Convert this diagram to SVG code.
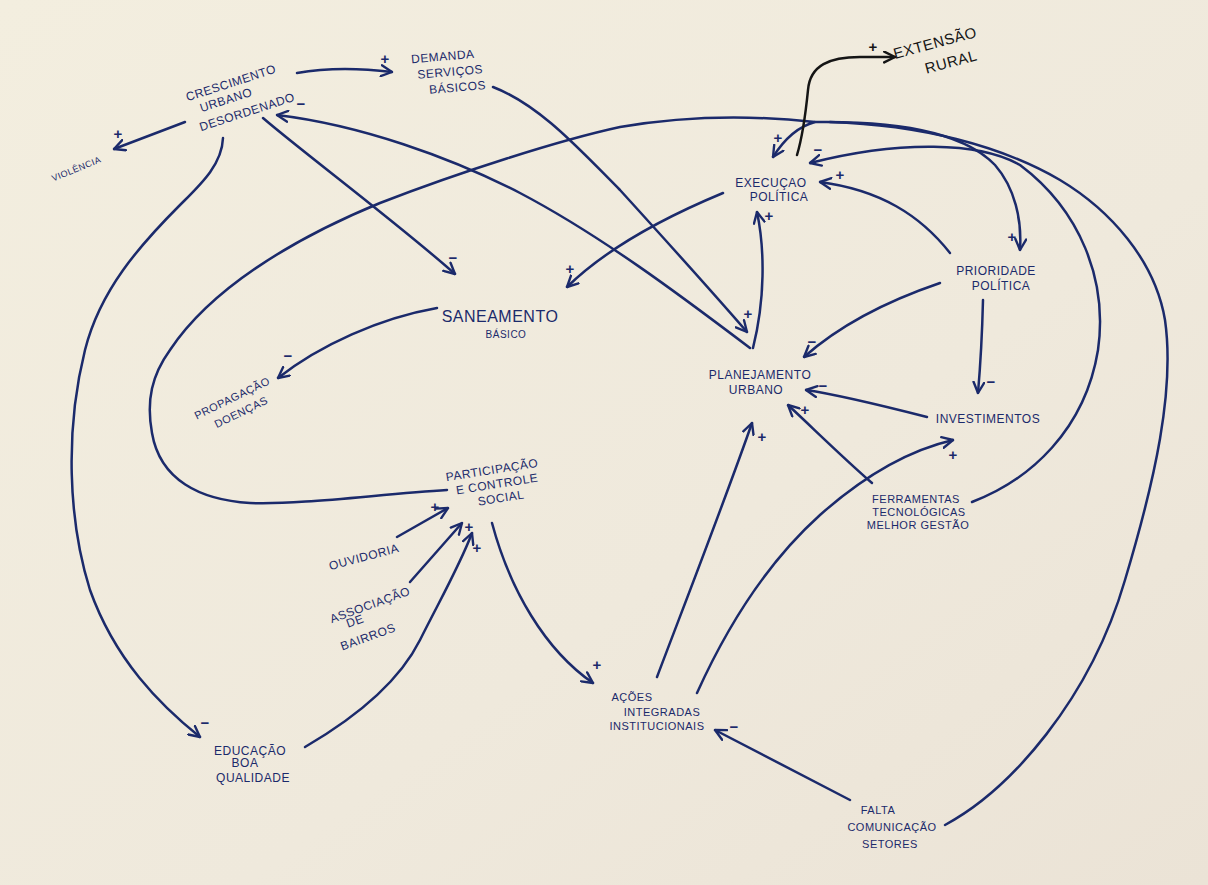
<svg xmlns="http://www.w3.org/2000/svg" width="1208" height="885" viewBox="0 0 1208 885">
<defs>
<linearGradient id="paper" x1="0" y1="0" x2="1" y2="1">
<stop offset="0" stop-color="#f3eedf"/>
<stop offset="0.6" stop-color="#efe9dc"/>
<stop offset="1" stop-color="#ebe3d6"/>
</linearGradient>
<marker id="arr" viewBox="0 0 12 12" refX="11" refY="6" markerWidth="13" markerHeight="13" markerUnits="userSpaceOnUse" orient="auto">
<path d="M1,1 L11,6 L1,11" fill="none" stroke="#1b2a6b" stroke-width="2.2" stroke-linecap="round" stroke-linejoin="round"/>
</marker>
<marker id="arrk" viewBox="0 0 12 12" refX="11" refY="6" markerWidth="13" markerHeight="13" markerUnits="userSpaceOnUse" orient="auto">
<path d="M1,1 L11,6 L1,11" fill="none" stroke="#151515" stroke-width="2.2" stroke-linecap="round" stroke-linejoin="round"/>
</marker>
</defs>
<style>
.c{fill:none;stroke:#1b2a6b;stroke-width:2.5;stroke-linecap:round;marker-end:url(#arr)}
.n{fill:none;stroke:#1b2a6b;stroke-width:2.5;stroke-linecap:round}
.t{font-family:"Liberation Sans",Arial,sans-serif;fill:#1b2a6b;font-size:12px;text-anchor:middle;letter-spacing:0.5px}
.p{font-family:"Liberation Sans",Arial,sans-serif;fill:#1b2a6b;font-size:15px;text-anchor:middle;font-weight:bold}
</style>
<rect x="0" y="0" width="1208" height="885" fill="url(#paper)"/>

<g id="connectors">
<path class="c" d="M297,73 C330,67 360,68 392,72"/>
<path class="c" d="M185,122 L114,149"/>
<path class="c" d="M263,118 C300,150 400,225 455,274"/>
<path class="c" d="M223,138 C222,165 200,185 180,205 C140,245 100,290 85,350 C65,430 68,520 90,590 C115,660 160,705 200,737"/>
<path class="c" d="M750,348 C680,295 600,235 520,193 C450,157 360,125 277,115"/>
<path class="c" d="M493,87 C540,105 580,150 620,190 C670,245 715,295 747,332"/>
<path class="c" d="M723,193 C670,215 610,245 567,287"/>
<path class="c" d="M437,308 C380,318 320,345 278,378"/>
<path class="c" d="M753,348 C765,300 765,250 757,212"/>
<path class="c" d="M447,490 C380,494 300,505 250,503 C200,500 160,480 152,433 C146,400 152,375 170,350 C210,290 290,240 380,203 C460,172 560,140 620,127 C690,115 760,116 815,122 C800,126 785,138 773,157"/>
<path class="c" d="M815,122 C880,121 960,128 995,165 C1015,188 1022,220 1020,250"/>
<path class="n" d="M945,825 C1010,790 1090,700 1125,580 C1155,480 1175,390 1165,320 C1155,260 1110,210 1060,180 C1000,145 920,125 830,122"/>
<path class="c" d="M972,502 C1030,480 1085,430 1098,350 C1108,280 1080,210 1020,165 C980,142 900,140 810,163"/>
<path class="c" d="M950,253 C920,215 880,190 820,182"/>
<path class="c" d="M940,283 C890,300 840,325 804,357"/>
<path class="c" d="M983,300 C982,340 980,370 978,393"/>
<path class="c" d="M927,417 C880,405 840,395 806,390"/>
<path class="c" d="M872,483 C840,455 815,430 788,405"/>
<path class="c" d="M657,677 C690,590 725,500 752,423"/>
<path class="c" d="M697,693 C730,620 770,560 820,515 C865,475 910,450 953,440"/>
<path class="c" d="M850,800 L715,730"/>
<path class="c" d="M492,523 C510,590 545,650 593,683"/>
<path class="c" d="M397,537 L448,508"/>
<path class="c" d="M410,582 L462,523"/>
<path class="c" d="M305,747 C360,715 400,680 420,640 C440,600 460,565 472,533"/>
<path d="M797,155 C803,135 806,110 808,90 C810,65 830,57 860,57 L895,57" fill="none" stroke="#151515" stroke-width="2.5" stroke-linecap="round" marker-end="url(#arrk)"/>
</g>

<g id="polarities">
<text class="p" x="385" y="64">+</text>
<text class="p" x="118" y="139">+</text>
<text class="p" x="453" y="263">−</text>
<text class="p" x="301" y="109">−</text>
<text class="p" x="205" y="728">−</text>
<text class="p" x="748" y="319">+</text>
<text class="p" x="570" y="274">+</text>
<text class="p" x="288" y="361">−</text>
<text class="p" x="769" y="221">+</text>
<text class="p" x="840" y="180">+</text>
<text class="p" x="778" y="143">+</text>
<text class="p" x="818" y="155">−</text>
<text class="p" x="1012" y="242">+</text>
<text class="p" x="812" y="347">−</text>
<text class="p" x="991" y="387">−</text>
<text class="p" x="823" y="391">−</text>
<text class="p" x="805" y="415">+</text>
<text class="p" x="762" y="442">+</text>
<text class="p" x="953" y="460">+</text>
<text class="p" x="734" y="732">−</text>
<text class="p" x="597" y="670">+</text>
<text class="p" x="435" y="512">+</text>
<text class="p" x="469" y="532">+</text>
<text class="p" x="477" y="553">+</text>
<text class="p" x="873" y="52" style="fill:#151515">+</text>
</g>

<g id="n-crescimento">
<text class="t" transform="translate(231,83) rotate(-18)" y="4">CRESCIMENTO</text>
<text class="t" transform="translate(226,100) rotate(-18)" y="4">URBANO</text>
<text class="t" transform="translate(247,112) rotate(-18)" y="4">DESORDENADO</text>
</g>
<g id="n-demanda" transform="rotate(-5 450 70)">
<text class="t" x="444" y="60">DEMANDA</text>
<text class="t" x="450" y="76">SERVIÇOS</text>
<text class="t" x="456" y="92">BÁSICOS</text>
</g>
<g id="n-violencia">
<text class="t" x="76" y="172" style="font-size:9px" transform="rotate(-22 76 168)">VIOLÊNCIA</text>
</g>
<g id="n-extensao">
<text class="t" transform="translate(935,43) rotate(-15)" y="5" style="font-size:15px;fill:#151515">EXTENSÃO</text>
<text class="t" transform="translate(951,62) rotate(-15)" y="5" style="font-size:15px;fill:#151515">RURAL</text>
</g>
<g id="n-execucao">
<text class="t" x="771" y="187">EXECUÇAO</text>
<text class="t" x="779" y="201">POLÍTICA</text>
</g>
<g id="n-prioridade">
<text class="t" x="996" y="275">PRIORIDADE</text>
<text class="t" x="1001" y="290">POLÍTICA</text>
</g>
<g id="n-saneamento">
<text class="t" x="500" y="322" style="font-size:16px">SANEAMENTO</text>
<text class="t" x="506" y="338" style="font-size:10px">BÁSICO</text>
</g>
<g id="n-propagacao">
<text class="t" transform="translate(232,398) rotate(-26)" y="4" style="font-size:11px">PROPAGAÇÃO</text>
<text class="t" transform="translate(241,412) rotate(-26)" y="4" style="font-size:11px">DOENÇAS</text>
</g>
<g id="n-planejamento">
<text class="t" x="760" y="379">PLANEJAMENTO</text>
<text class="t" x="756" y="394">URBANO</text>
</g>
<g id="n-investimentos">
<text class="t" x="988" y="423">INVESTIMENTOS</text>
</g>
<g id="n-ferramentas">
<text class="t" x="916" y="503" style="font-size:11px">FERRAMENTAS</text>
<text class="t" x="919" y="516" style="font-size:11px">TECNOLÓGICAS</text>
<text class="t" x="918" y="529" style="font-size:11px">MELHOR GESTÃO</text>
</g>
<g id="n-participacao">
<text class="t" transform="translate(492,470) rotate(-9)" y="4">PARTICIPAÇÃO</text>
<text class="t" transform="translate(497,484) rotate(-9)" y="4">E CONTROLE</text>
<text class="t" transform="translate(501,498) rotate(-9)" y="4">SOCIAL</text>
</g>
<g id="n-ouvidoria">
<text class="t" transform="translate(364,557) rotate(-15)" y="4">OUVIDORIA</text>
</g>
<g id="n-associacao">
<text class="t" transform="translate(370,605) rotate(-20)" y="4">ASSOCIAÇÃO</text>
<text class="t" transform="translate(355,621) rotate(-20)" y="4">DE</text>
<text class="t" transform="translate(368,637) rotate(-20)" y="4">BAIRROS</text>
</g>
<g id="n-educacao">
<text class="t" x="250" y="755">EDUCAÇÃO</text>
<text class="t" x="245" y="767">BOA</text>
<text class="t" x="253" y="782">QUALIDADE</text>
</g>
<g id="n-acoes">
<text class="t" x="632" y="701" style="font-size:11px">AÇÕES</text>
<text class="t" x="662" y="716" style="font-size:11px">INTEGRADAS</text>
<text class="t" x="657" y="730" style="font-size:11px">INSTITUCIONAIS</text>
</g>
<g id="n-falta">
<text class="t" x="878" y="814" style="font-size:11px">FALTA</text>
<text class="t" x="892" y="831" style="font-size:11px">COMUNICAÇÃO</text>
<text class="t" x="890" y="848" style="font-size:11px">SETORES</text>
</g>
</svg>
